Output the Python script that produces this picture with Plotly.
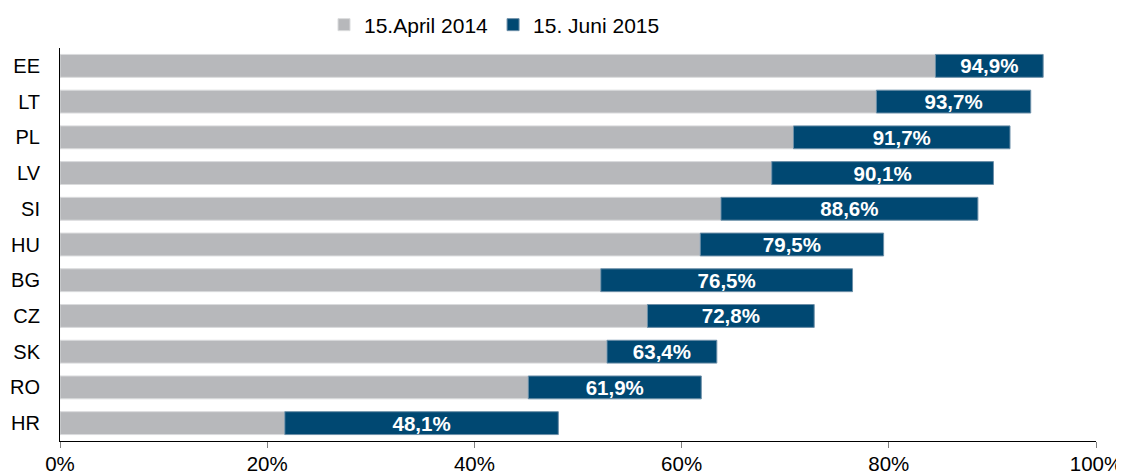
import plotly.graph_objects as go

countries = ["EE", "LT", "PL", "LV", "SI", "HU", "BG", "CZ", "SK", "RO", "HR"]
april_2014 = [84.5, 78.8, 70.8, 68.7, 63.8, 61.8, 52.2, 56.7, 52.8, 45.2, 21.7]
juni_2015 = [94.9, 93.7, 91.7, 90.1, 88.6, 79.5, 76.5, 72.8, 63.4, 61.9, 48.1]
labels = [f"{v:.1f}%".replace(".", ",") for v in juni_2015]
x_ticks = [0, 20, 40, 60, 80, 100]
x_ticklabels = [f"{t}%" for t in x_ticks]

GRAY = "#B7B8BB"
NAVY = "#004872"
FONT = "Liberation Sans, Arial, sans-serif"

# page body has an 8px default margin; margins below compensate for it
fig = go.Figure()
fig.add_trace(go.Bar(
    y=countries, x=april_2014, orientation="h", name="15.April 2014",
    marker=dict(color=GRAY, line=dict(color="#DADBDD", width=1)),
    width=0.64, hoverinfo="skip",
))
fig.add_trace(go.Bar(
    y=countries, x=[j - a for j, a in zip(juni_2015, april_2014)], base=april_2014,
    orientation="h", name="15. Juni 2015",
    marker=dict(color=NAVY, line=dict(color="#6C8FA8", width=1)),
    width=0.64, text=labels, textposition="inside", insidetextanchor="middle",
    textangle=0,
    textfont=dict(color="white", size=20.5, family=FONT, weight="bold"),
    hoverinfo="skip",
))

fig.update_layout(
    barmode="overlay",
    width=1124, height=474,
    margin=dict(l=52, r=36, t=40, b=41),
    paper_bgcolor="white", plot_bgcolor="white",
    font=dict(family=FONT, size=20, color="black"),
    uniformtext=dict(minsize=18, mode="show"),
    legend=dict(orientation="h", x=(324 - 60) / 1036, xanchor="left",
                yref="container", y=1 - (25 - 8) / 474, yanchor="middle",
                font=dict(size=21), traceorder="normal",
                bgcolor="rgba(0,0,0,0)"),
    showlegend=True,
)
fig.update_xaxes(
    range=[0, 100], tickvals=x_ticks, ticktext=x_ticklabels,
    showgrid=False, zeroline=False, showline=True, linecolor="black", linewidth=1,
    ticks="outside", ticklen=6, tickcolor="#808080", ticklabelstandoff=-2,
    tickfont=dict(size=20.5), automargin=False,
)
fig.update_yaxes(
    categoryorder="array", categoryarray=countries, autorange="reversed",
    showgrid=False, zeroline=False, showline=True, linecolor="black", linewidth=1,
    ticks="", ticklabelstandoff=15, tickfont=dict(size=20), automargin=False,
)

fig.write_html("out.html")
